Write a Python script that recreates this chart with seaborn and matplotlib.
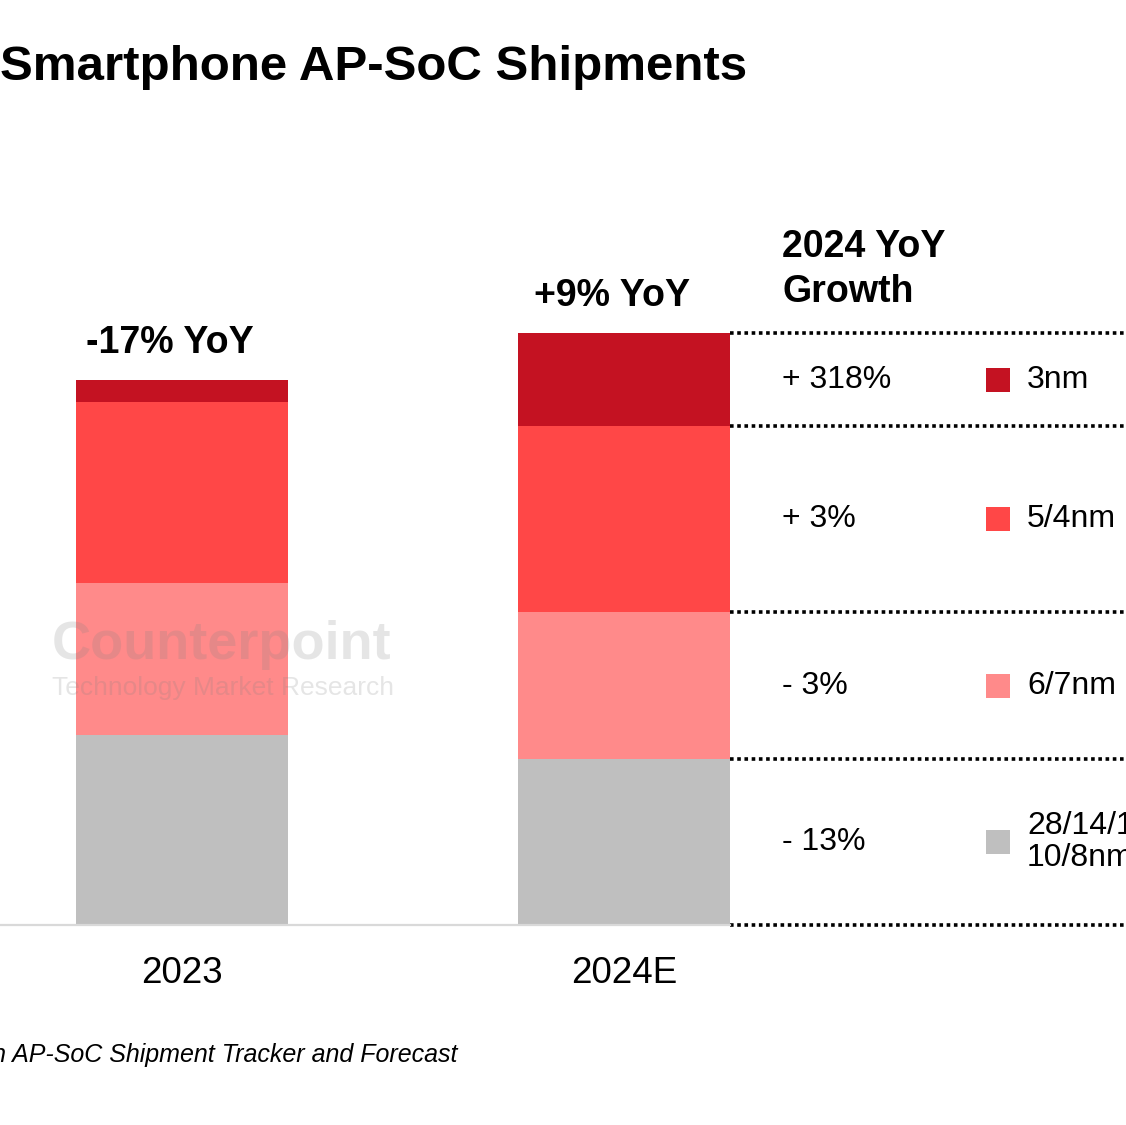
import matplotlib
matplotlib.use("Agg")
import matplotlib.pyplot as plt
import pandas as pd
import seaborn as sns

# shipment index per process node (2023, 2024E), bottom to top
years = ["2023", "2024E"]
nodes = ["28/14/12/\n10/8nm", "6/7nm", "5/4nm", "3nm"]
legacy = [190, 166]
n67 = [152, 147]
n54 = [181, 186]
n3 = [22, 93]
total_yoy = ["-17% YoY", "+9% YoY"]
growth_2024 = ["- 13%", "- 3%", "+ 3%", "+ 318%"]
colors = ["#BFBFBF", "#FF8A8A", "#FF4747", "#C41222"]

sns.set_theme(style="white")
plt.rcParams["font.family"] = ["Liberation Sans", "DejaVu Sans"]

df = pd.DataFrame({"year": years, nodes[0]: legacy, nodes[1]: n67,
                   nodes[2]: n54, nodes[3]: n3})
cum = df[nodes].cumsum(axis=1)

W, H = 1126, 1125
fig = plt.figure(figsize=(W / 100, H / 100), dpi=100)
ax = fig.add_axes([0, 200 / H, 730 / W, 825 / H])

# stacked bars: draw cumulative totals from the top layer down
for node, color in zip(reversed(nodes), reversed(colors)):
    sns.barplot(x=df["year"], y=cum[node], color=color, width=0.48,
                saturation=1, errorbar=None, linewidth=0, ax=ax)

ax.set_xlim(-182 / 442, 548 / 442)
ax.set_ylim(0, 825)
ax.set_xlabel("")
ax.set_ylabel("")
ax.set_yticks([])
ax.tick_params(axis="x", length=0, pad=22, labelsize=26.5, colors="black")
sns.despine(ax=ax, left=True)
ax.spines["bottom"].set_color("#D9D9D9")
ax.spines["bottom"].set_linewidth(1.6)

totals = cum[nodes[-1]]
for i, lab in enumerate(total_yoy):
    ax.text(i - 0.028, totals[i] + 37, lab, ha="center", va="center",
            fontsize=27, fontweight="bold", color="black")

# right-hand table for 2024E
x_edge = 1 + 0.24
x_end = (W - 182) / 442
bounds = [0] + list(cum.loc[1])
for y in bounds:
    ax.plot([x_edge, x_end], [y, y], ls=(0, (1, 1)), lw=2.6,
            color="black", clip_on=False)

x_growth = (782 - 182) / 442
x_sq = (998 - 182) / 442
x_lab = (1027 - 182) / 442
for k, node in enumerate(nodes):
    mid = bounds[k] + (bounds[k + 1] - bounds[k]) / 2
    ax.text(x_growth, mid, growth_2024[k], ha="left", va="center",
            fontsize=23, color="black")
    ax.scatter([x_sq], [mid], marker="s", s=275, color=colors[k],
               linewidths=0, clip_on=False)
    ax.text(x_lab, mid, node, ha="left", va="center", fontsize=23,
            color="black", linespacing=1.1)

ax.text(x_growth, totals[1] + 86, "2024 YoY", ha="left", va="center",
        fontsize=27, fontweight="bold", color="black")
ax.text(x_growth, totals[1] + 41, "Growth", ha="left", va="center",
        fontsize=27, fontweight="bold", color="black")

# watermark
fig.text(222 / W, 1 - 645 / H, "Counterpoint", ha="center", va="center",
         fontsize=39, fontweight="bold", color="#808080", alpha=0.2)
fig.text(223 / W, 1 - 688 / H, "Technology Market Research", ha="center",
         va="center", fontsize=19, color="#808080", alpha=0.2)

fig.text(0, 1 - 67 / H, "Smartphone AP-SoC Shipments", ha="left",
         va="center", fontsize=35.5, fontweight="bold", color="black")
fig.text(457 / W, 1 - 1055 / H,
         "Source: Counterpoint Research AP-SoC Shipment Tracker and Forecast",
         ha="right", va="center", fontsize=18, fontstyle="italic",
         color="black")

fig.savefig("out.png", dpi=100)
